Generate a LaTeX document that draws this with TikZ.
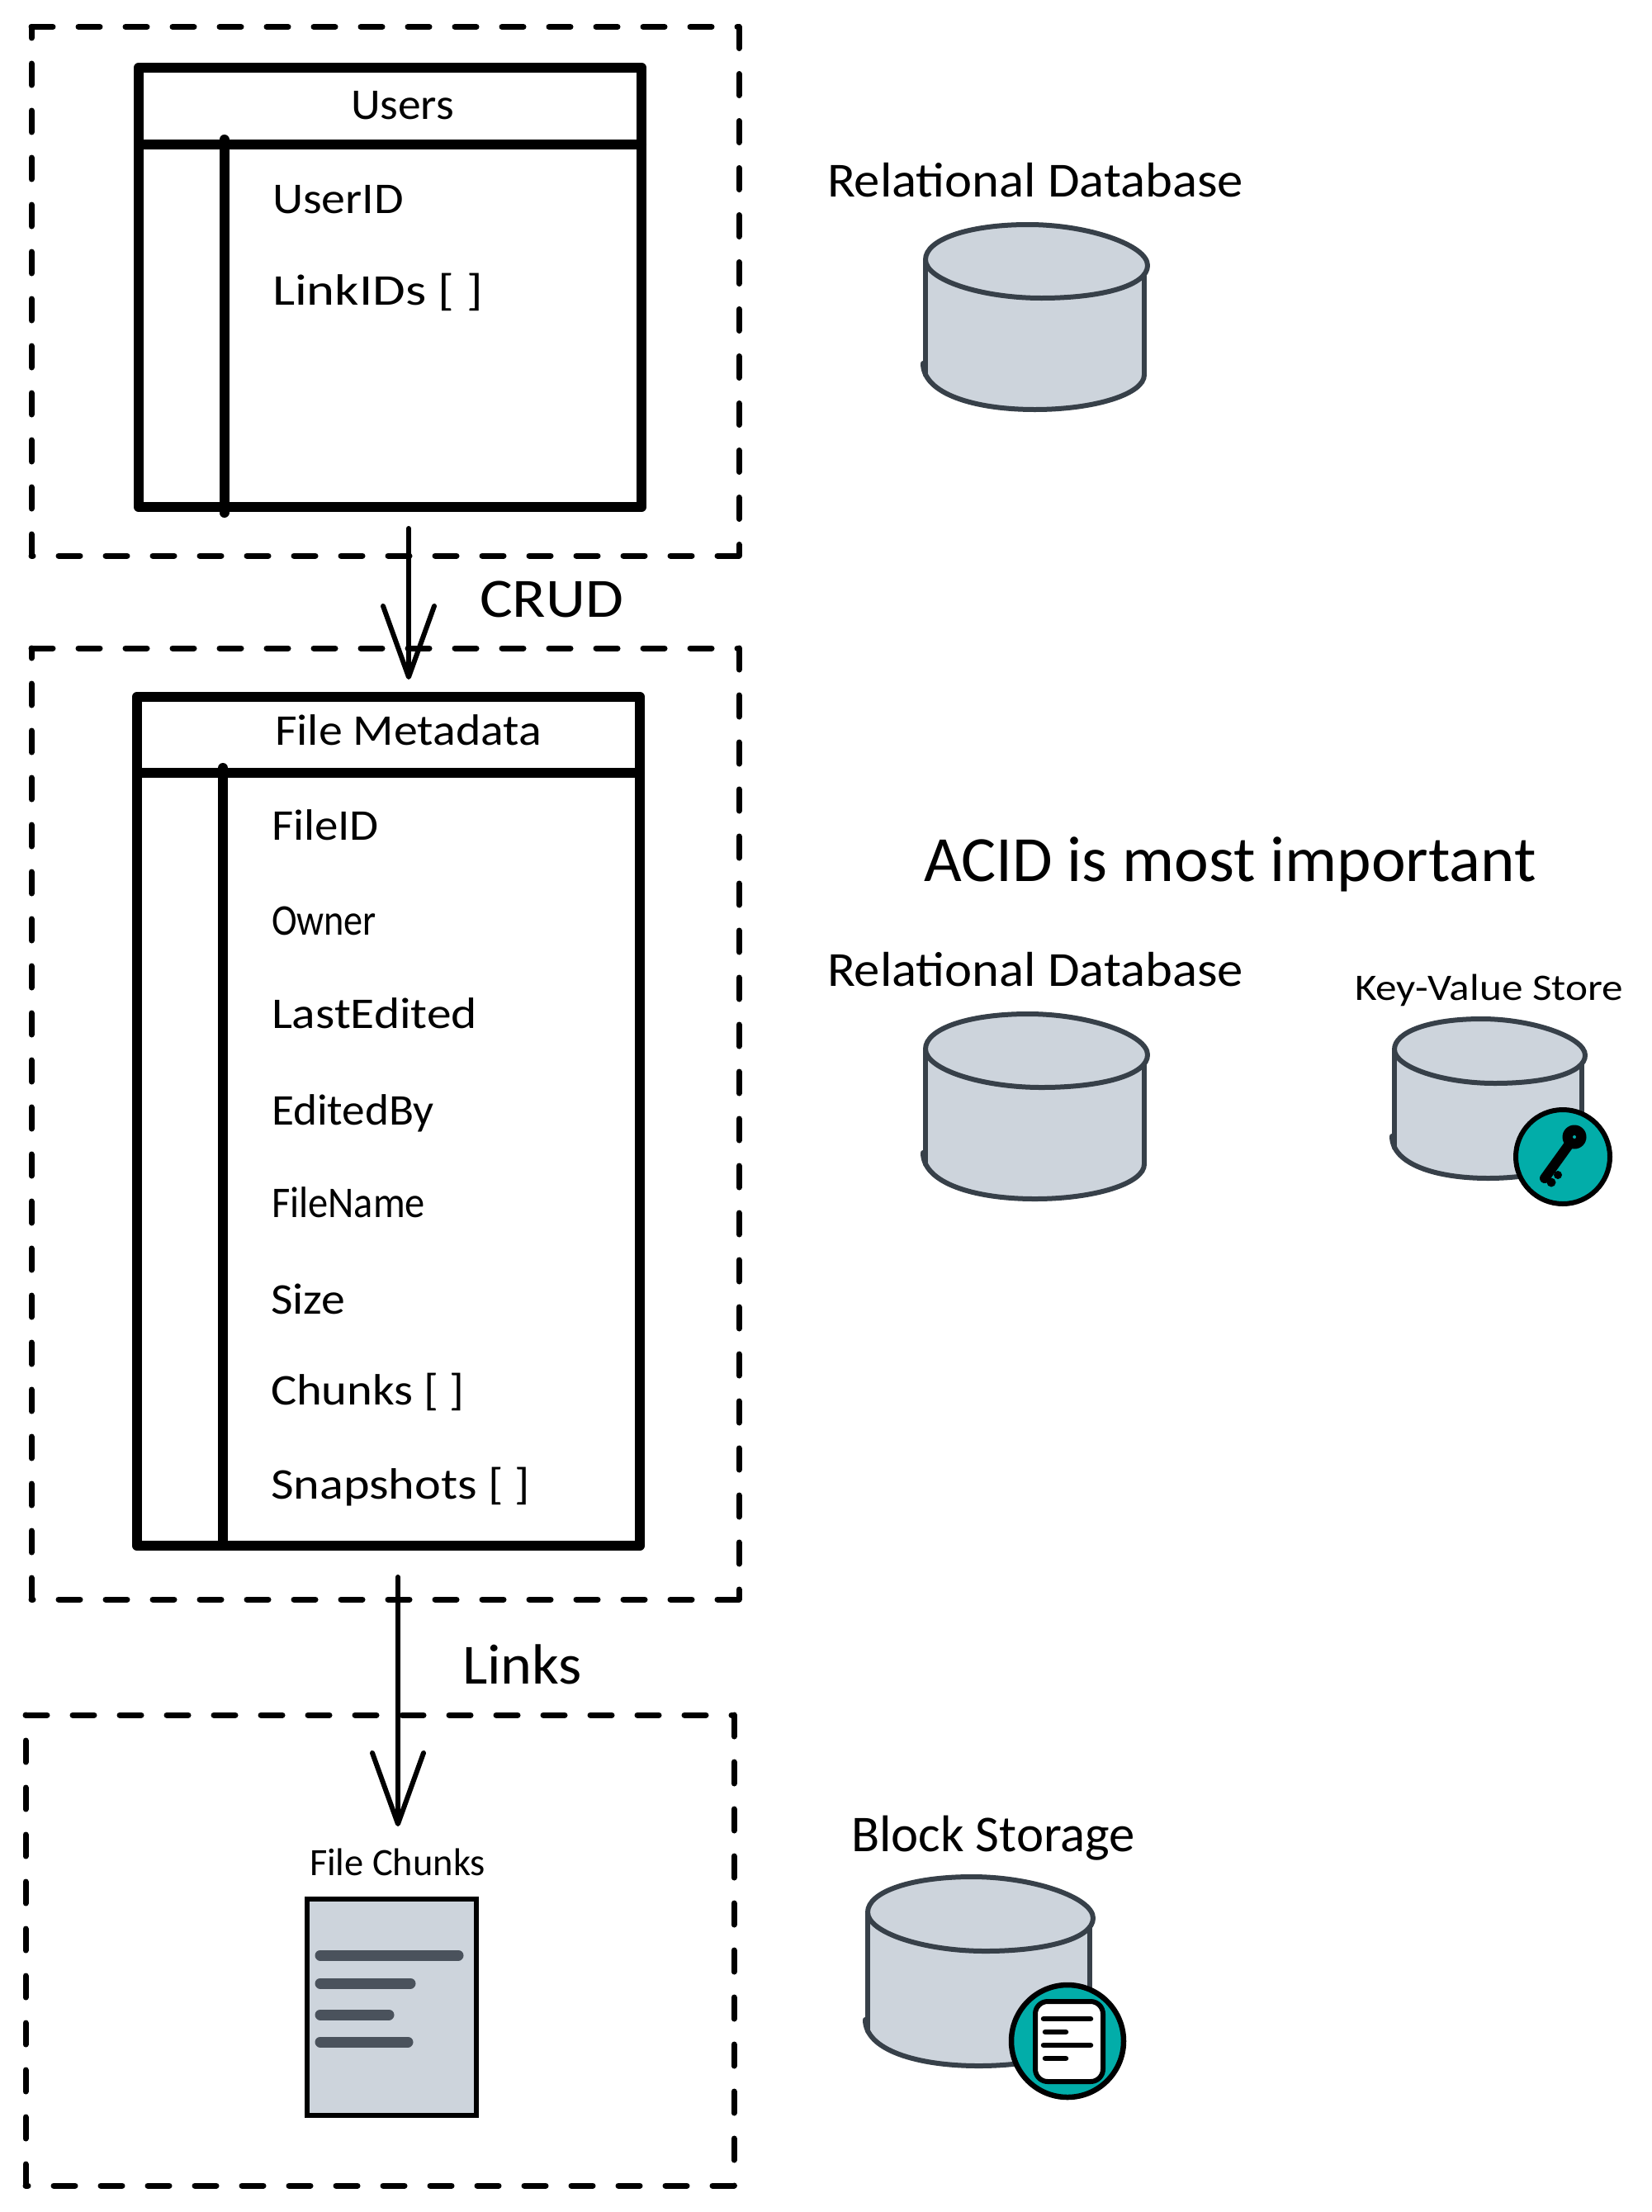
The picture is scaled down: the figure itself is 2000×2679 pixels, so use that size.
\documentclass[tikz,border=0pt]{standalone}
\usepackage{fontspec}
\usepackage{graphicx}
\setmainfont{Carlito}
\usetikzlibrary{arrows.meta}

\definecolor{slatefill}{HTML}{CDD4DC}
\definecolor{slateedge}{HTML}{374049}
\definecolor{slatebar}{HTML}{4A525C}
\definecolor{badgeteal}{HTML}{02ADA9}

% Sets text to an exact width and capital height, centred on the node's mid line
\newcommand{\fitted}[3]{\resizebox*{#1pt}{#2pt}{\rule[-0.32em]{0pt}{0.64em}\raisebox{-0.32em}{\smash{#3}}}}

% Four dashed sides, each starting with a fresh dash at its own corner
\newcommand{\dashedsides}[1]{%
  \draw[grouprule] (#1.north west) -- (#1.north east);
  \draw[grouprule] (#1.north east) -- (#1.south east);
  \draw[grouprule] (#1.south east) -- (#1.south west);
  \draw[grouprule] (#1.south west) -- (#1.north west);
}

% Database drum: left, right, top, lid bottom, side bottom, base bottom
\newcommand{\dbdrum}[6]{%
  \pgfmathsetmacro\cx{(#1+#2)/2}
  \pgfmathsetmacro\rx{(#2-#1)/2}
  \pgfmathsetmacro\kx{0.55*\rx}
  \pgfmathsetmacro\cy{(#3+#4)/2}
  \pgfmathsetmacro\ky{0.55*(#4-#3)/2}
  \pgfmathsetmacro\by{#5+0.55*(#6-#5)}
  \pgfmathsetmacro\lx{#1-3}
  \pgfmathsetmacro\ly{#5-14}
  \pgfmathsetmacro\bxl{\cx-\kx}
  \pgfmathsetmacro\bxr{\cx+\kx}
  \pgfmathsetmacro\tx{\cx-8}
  \pgfmathsetmacro\tl{\tx-\kx}
  \pgfmathsetmacro\tr{\tx+\kx}
  \pgfmathsetmacro\ux{\cx+8}
  \pgfmathsetmacro\ul{\ux-\kx}
  \pgfmathsetmacro\ur{\ux+\kx}
  \pgfmathsetmacro\ex{#2+4}
  \pgfmathsetmacro\ey{\cy+5}
  \pgfmathsetmacro\sy{\cy-2}
  \pgfmathsetmacro\lua{\sy-\ky}
  \pgfmathsetmacro\lub{\sy+\ky}
  \pgfmathsetmacro\rua{\ey-\ky}
  \pgfmathsetmacro\rub{\ey+\ky}
  \fill[slatefill] (#1,\cy) -- (#1,#5) .. controls (#1,\by) and (\bxl,#6) .. (\cx,#6)
    .. controls (\bxr,#6) and (#2,\by) .. (#2,#5) -- (#2,\cy) -- cycle;
  \draw[drumline] (#1,\cy) -- (#1,#5);
  \draw[drumline] (#2,\cy) -- (#2,#5);
  \draw[drumline] (\lx,\ly) .. controls (\lx,\by) and (\bxl,#6) .. (\cx,#6)
    .. controls (\bxr,#6) and (#2,\by) .. (#2,#5);
  \draw[drumline,fill=slatefill] (#1,\sy) .. controls (#1,\lua) and (\tl,#3) .. (\tx,#3)
    .. controls (\tr,#3) and (\ex,\rua) .. (\ex,\ey)
    .. controls (\ex,\rub) and (\ur,#4) .. (\ux,#4)
    .. controls (\ul,#4) and (#1,\lub) .. (#1,\sy) -- cycle;
}

\tikzset{
  x=1pt, y=-1pt,
  grouparea/.style={rectangle, inner sep=0pt, outer sep=0pt},
  grouprule/.style={line width=7pt, line cap=round, dash pattern=on 26pt off 31pt},
  tablecell/.style={rectangle, draw=black, line width=12.5pt, line join=round, fill=white,
    inner sep=0pt, outer sep=0pt},
  tablerule/.style={line width=12pt, line cap=round},
  caption/.style={inner sep=0pt, outer sep=0pt, anchor=west, text=black},
  flowarrow/.style={line width=6pt, line cap=round,
    -{Straight Barb[length=86pt, width=62pt, line width=6pt, round]}},
  drumline/.style={draw=slateedge, line width=6pt, line join=round, line cap=round},
  badgedisc/.style={circle, draw=black, fill=badgeteal, inner sep=0pt, outer sep=0pt},
  pagesheet/.style={rectangle, draw=black, line width=5.5pt, fill=slatefill, inner sep=0pt, outer sep=0pt},
  pagebar/.style={draw=slatebar, line width=13pt, line cap=round},
  iconbar/.style={draw=black, line width=6.5pt, line cap=round},
}

\begin{document}
\begin{tikzpicture}
\useasboundingbox[fill=white] (0,0) rectangle (2000,2679);

% Dashed group frames
\node[grouparea, minimum width=857pt, minimum height=640.5pt] (usersgroup) at (466.5,352.75) {};
\node[grouparea, minimum width=857pt, minimum height=1152pt] (metagroup) at (466.5,1361) {};
\node[grouparea, minimum width=858pt, minimum height=570pt] (chunkgroup) at (460,2362) {};
\dashedsides{usersgroup}
\dashedsides{metagroup}
\dashedsides{chunkgroup}

% Users table
\node[tablecell, minimum width=609pt, minimum height=532pt] (usersbody) at (472.5,348) {};
\draw[tablerule] (usersbody.north west) ++(0,93) coordinate (usersheadl) -- (usersbody.north east |- usersheadl);
\draw[tablerule] (271.5,169) coordinate (userscolt) -- (271.5,621) coordinate (userscolb);
\node[caption] (userstitle) at (425,127) {\fitted{125}{34}{Users}};
\node[caption] (userid) at (330,241) {\fitted{159}{34}{UserID}};
\node[caption] (linkids) at (330,352) {\fitted{255}{34}{LinkIDs [ ]}};

% File metadata table
\node[tablecell, minimum width=609pt, minimum height=1028pt] (metabody) at (470.5,1358) {};
\draw[tablerule] (metabody.north west) ++(0,92) coordinate (metaheadl) -- (metabody.north east |- metaheadl);
\draw[tablerule] (270,930) coordinate (metacolt) -- (270,1870) coordinate (metacolb);
\node[caption] (metatitle) at (333,885) {\fitted{323}{34}{File Metadata}};
\node[caption] (fileid) at (329,1000) {\fitted{130}{34}{FileID}};
\node[caption] (owner) at (329,1115) {\fitted{127}{34}{Owner}};
\node[caption] (lastedited) at (329,1228) {\fitted{249}{34}{LastEdited}};
\node[caption] (editedby) at (329,1345) {\fitted{197}{34}{EditedBy}};
\node[caption] (filename) at (329,1457) {\fitted{186}{34}{FileName}};
\node[caption] (size) at (328,1574) {\fitted{90}{34}{Size}};
\node[caption] (chunks) at (328,1684) {\fitted{235}{34}{Chunks [ ]}};
\node[caption] (snapshots) at (328,1798) {\fitted{314}{34}{Snapshots [ ]}};

% File chunks page
\node[caption] (chunkstitle) at (375,2256) {\fitted{213}{30}{File Chunks}};
\node[pagesheet, minimum width=205pt, minimum height=262pt] (chunkpage) at (474.5,2431) {};
\draw[pagebar] (388,2368) -- (555,2368);
\draw[pagebar] (388,2402) -- (497,2402);
\draw[pagebar] (388,2440) -- (471,2440);
\draw[pagebar] (388,2473) -- (494,2473);

% Flow between the groups
\coordinate (crudfrom) at (495,640);
\coordinate (crudto) at (495,823);
\draw[flowarrow] (crudfrom) -- (crudto);
\node[caption] (crudlabel) at (581,726) {\fitted{174}{43}{CRUD}};
\coordinate (linksfrom) at (482,1910);
\coordinate (linksto) at (482,2212);
\draw[flowarrow] (linksfrom) -- (linksto);
\node[caption] (linkslabel) at (560,2017) {\fitted{145}{44}{Links}};

% Storage choices on the right
\node[caption] (reltop) at (1002,219) {\fitted{504}{38}{Relational Database}};
\dbdrum{1121}{1386}{272}{361}{454}{496}

\node[caption] (acid) at (1119,1042) {\fitted{742}{50}{ACID is most important}};
\node[caption] (relmid) at (1002,1175) {\fitted{504}{38}{Relational Database}};
\dbdrum{1121}{1386}{1228}{1317}{1410}{1452}

\node[caption] (kvlabel) at (1641,1197) {\fitted{325}{29}{Key-Value Store}};
\dbdrum{1689}{1916}{1234}{1312}{1390}{1427}
\node[badgedisc, line width=6pt, minimum size=114pt] (keybadge) at (1893,1401) {};
\fill[black] (1907,1377) circle[radius=14.5pt];
\draw[black, line width=12pt, line cap=round] (1907,1377) -- (1871,1427);
\fill[black] (1887,1423) circle[radius=5pt];
\fill[black] (1879,1432) circle[radius=5.5pt];
\fill[badgeteal] (1907,1377) circle[radius=2pt];

\node[caption] (blocklabel) at (1031,2222) {\fitted{344}{40}{Block Storage}};
\dbdrum{1051}{1320}{2273}{2363}{2460}{2502}
\node[badgedisc, line width=6.5pt, minimum size=136pt] (docbadge) at (1293,2472) {};
\node[rectangle, rounded corners=15pt, draw=black, fill=white, line width=6pt,
  minimum width=82pt, minimum height=97pt, inner sep=0pt, outer sep=0pt] (docicon) at (1295,2472.5) {};
\draw[iconbar] (1264,2445) -- (1321,2445);
\draw[iconbar] (1266,2461) -- (1291,2461);
\draw[iconbar] (1264,2477) -- (1321,2477);
\draw[iconbar] (1266,2493) -- (1291,2493);
\end{tikzpicture}
\end{document}
